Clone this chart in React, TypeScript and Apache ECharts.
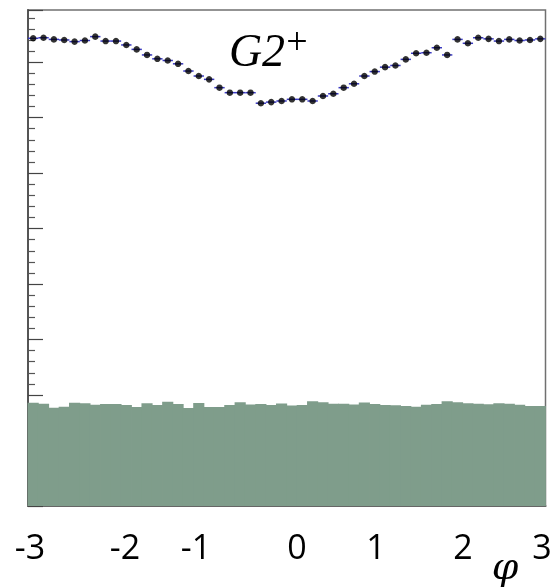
import React, { useEffect, useRef } from "react";
import * as echarts from "echarts";

// ---- data ----
const X_MIN = -3;
const X_MAX = 3;
const BIN_WIDTH = 0.12; // 50 bins over [-3, 3]

// G2+ measured points (one per bin)
const g2Values = [
  8.43, 8.44, 8.41, 8.4, 8.37, 8.39, 8.46, 8.38, 8.38, 8.31,
  8.23, 8.13, 8.06, 8.03, 7.97, 7.84, 7.75, 7.69, 7.54, 7.45,
  7.45, 7.45, 7.26, 7.28, 7.3, 7.33, 7.33, 7.3, 7.39, 7.43,
  7.54, 7.61, 7.75, 7.83, 7.91, 7.94, 8.05, 8.16, 8.17, 8.26,
  8.13, 8.41, 8.34, 8.44, 8.42, 8.38, 8.41, 8.39, 8.4, 8.42,
];

// background histogram (one per bin)
const bgValues = [
  1.861, 1.843, 1.771, 1.789, 1.861, 1.85, 1.825, 1.838, 1.838, 1.82,
  1.784, 1.85, 1.82, 1.879, 1.838, 1.766, 1.856, 1.784, 1.784, 1.82,
  1.868, 1.829, 1.838, 1.82, 1.847, 1.811, 1.82, 1.886, 1.868, 1.841,
  1.841, 1.829, 1.865, 1.838, 1.82, 1.814, 1.802, 1.789, 1.825, 1.838,
  1.886, 1.868, 1.85, 1.843, 1.832, 1.85, 1.843, 1.825, 1.802, 1.802,
];

const xTickLabels = ["-3", "-2", "-1", "0", "1", "2", "3"];
const Y_MAX = 8.94;

// ---- layout (not data) ----
const X_LABEL_CENTERS = [30, 125, 196, 297, 376, 463, 542];

const binCenter = (i: number) => X_MIN + BIN_WIDTH * (i + 0.5);

const textStyle = (text: string, font: string) => ({
  text,
  font,
  fill: "#000",
  align: "center",
  verticalAlign: "middle",
  textAlign: "center",
  textVerticalAlign: "middle",
});

export default function App() {
  const ref = useRef<HTMLDivElement>(null);

  useEffect(() => {
    if (!ref.current) return;
    const chart = echarts.init(ref.current, undefined, { renderer: "svg" });

    const bgData = bgValues.map((v, i) => [binCenter(i), v]);
    const g2Data = g2Values.map((v, i) => [binCenter(i), v]);

    const graphic: any[] = xTickLabels.map((t, i) => ({
      type: "text",
      x: X_LABEL_CENTERS[i],
      y: 546,
      style: textStyle(t, "34px 'Open Sans'"),
    }));
    graphic.push({
      type: "text",
      x: 505,
      y: 566,
      style: textStyle("φ", "italic 38px 'DejaVu Serif'"),
    });
    graphic.push({
      type: "text",
      x: 257,
      y: 50,
      style: textStyle("G2", "italic 46px 'Liberation Serif'"),
    });
    graphic.push({
      type: "text",
      x: 297,
      y: 41,
      style: textStyle("+", "38px 'Liberation Serif'"),
    });

    chart.setOption({
      animation: false,
      grid: {
        left: 28,
        right: 11.5,
        top: 10,
        bottom: 81,
        show: true,
        borderColor: "#707070",
        borderWidth: 1.5,
        backgroundColor: "transparent",
      },
      xAxis: {
        type: "value",
        min: X_MIN,
        max: X_MAX,
        interval: 1,
        axisLine: { show: true, onZero: false, lineStyle: { color: "#666", width: 2 } },
        axisTick: { show: false },
        axisLabel: { show: false },
        splitLine: { show: false },
      },
      yAxis: {
        type: "value",
        min: 0,
        max: Y_MAX,
        interval: 1,
        axisLine: { show: true, onZero: false, lineStyle: { color: "#555", width: 2 } },
        axisTick: { show: true, inside: true, length: 15, lineStyle: { color: "#444", width: 1.2 } },
        minorTick: { show: true, splitNumber: 5, length: 7, lineStyle: { color: "#555", width: 1.2 } },
        axisLabel: { show: false },
        splitLine: { show: false },
        minorSplitLine: { show: false },
      },
      graphic,
      series: [
        {
          type: "custom",
          name: "background",
          data: bgData,
          z: 1,
          renderItem: (params: any, api: any) => {
            const x = api.value(0);
            const v = api.value(1);
            const p0 = api.coord([x - BIN_WIDTH / 2, 0]);
            const p1 = api.coord([x + BIN_WIDTH / 2, v]);
            return {
              type: "rect",
              shape: { x: p0[0] - 0.4, y: p1[1], width: p1[0] - p0[0] + 0.8, height: p0[1] - p1[1] },
              style: { fill: "#7f9d8b", stroke: null },
            };
          },
        },
        {
          type: "custom",
          name: "G2+ bins",
          data: g2Data,
          z: 3,
          renderItem: (params: any, api: any) => {
            const x = api.value(0);
            const v = api.value(1);
            const a = api.coord([x - BIN_WIDTH / 2, v]);
            const b = api.coord([x + BIN_WIDTH / 2, v]);
            return {
              type: "line",
              shape: { x1: a[0], y1: a[1], x2: b[0], y2: b[1] },
              style: { stroke: "#3a3ac0", lineWidth: 1.5 },
            };
          },
        },
        {
          type: "scatter",
          name: "G2+",
          data: g2Data,
          z: 4,
          symbol: "circle",
          symbolSize: 6.5,
          itemStyle: { color: "#000" },
        },
      ],
    });

    return () => chart.dispose();
  }, []);

  return (
    <div
      ref={ref}
      style={{ position: "fixed", left: 0, top: 0, width: 557, height: 587 }}
    />
  );
}
